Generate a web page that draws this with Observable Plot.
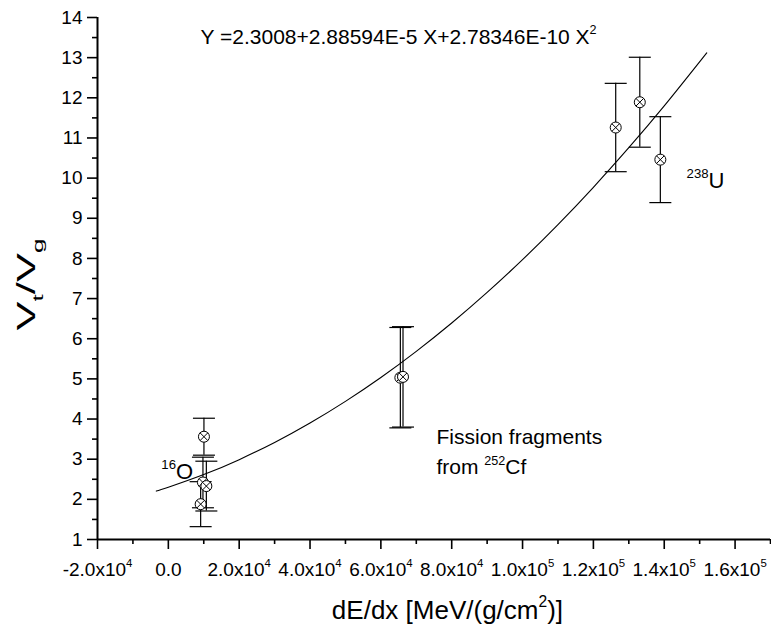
<!DOCTYPE html>
<html><head><meta charset="utf-8">
<script src="https://cdn.jsdelivr.net/npm/d3@7"></script>
<script src="https://cdn.jsdelivr.net/npm/@observablehq/plot@0.6"></script>
<style>body{margin:0;background:#fff}</style>
</head><body><div id="chart"></div>
<script>
// measured points (dE/dx, Vt/Vg, error)
const pointX = [10050, 9770, 10730, 9120, 65500, 66250, 126300, 133100, 138900];
const pointY = [3.56, 2.42, 2.33, 1.88, 5.03, 5.05, 11.26, 11.89, 10.46];
const pointErr = [0.46, 0.63, 0.62, 0.56, 1.25, 1.25, 1.10, 1.12, 1.07];
// fitted curve
const fitX = [-3400, 0, 10000, 20000, 30000, 40000, 50000, 60000, 70000, 80000, 90000, 100000, 110000, 120000, 130000, 140000, 152000];
const fitY = [2.206, 2.301, 2.617, 2.989, 3.417, 3.901, 4.440, 5.034, 5.685, 6.391, 7.153, 7.970, 8.843, 9.772, 10.757, 11.797, 13.118];
// axis ticks
const xMajorTicks = [-20000, 0, 20000, 40000, 60000, 80000, 100000, 120000, 140000, 160000];
const xTickLabels = ["-2.0x10^{4}", "0.0", "2.0x10^{4}", "4.0x10^{4}", "6.0x10^{4}", "8.0x10^{4}", "1.0x10^{5}", "1.2x10^{5}", "1.4x10^{5}", "1.6x10^{5}"];
const xMinorTicks = [-10000, 10000, 30000, 50000, 70000, 90000, 110000, 130000, 150000, 170000];
const yMajorTicks = [1, 2, 3, 4, 5, 6, 7, 8, 9, 10, 11, 12, 13, 14];
const yMinorTicks = [1.5, 2.5, 3.5, 4.5, 5.5, 6.5, 7.5, 8.5, 9.5, 10.5, 11.5, 12.5, 13.5];
const equationText = "Y =2.3008+2.88594E-5 X+2.78346E-10 X^{2}";
const xTitle = "dE/dx [MeV/(g/cm^{2})]";
const yTitle = "V_{t}/V_{g}";

const idx = pointX.map((_, i) => i);
const fitIdx = fitX.map((_, i) => i);

const circleTimes = {
  draw(ctx, size) {
    const r = Math.sqrt(size / Math.PI);
    ctx.moveTo(r, 0);
    ctx.arc(0, 0, r, 0, 2 * Math.PI);
    const a = r / Math.SQRT2;
    ctx.moveTo(-a, -a); ctx.lineTo(a, a);
    ctx.moveTo(-a, a); ctx.lineTo(a, -a);
  }
};
const hCap = {
  draw(ctx, size) {
    const r = Math.sqrt(size / Math.PI);
    ctx.moveTo(-r, 0); ctx.lineTo(r, 0);
  }
};

const font = "Liberation Sans, Arial, sans-serif";

const plot = Plot.plot({
  width: 771, height: 636,
  marginLeft: 97, marginRight: 1, marginTop: 17, marginBottom: 97,
  x: {domain: [-20000, 170000], label: null},
  y: {domain: [1, 14], label: null},
  style: {fontFamily: font, background: "white", color: "black", overflow: "visible"},
  marks: [
    // axis lines
    Plot.ruleX([-20000], {y1: 1, y2: 14, stroke: "black", strokeWidth: 2}),
    Plot.ruleY([1], {x1: -20000, x2: 170000, stroke: "black", strokeWidth: 2}),
    Plot.axisX({ticks: xMajorTicks, tickSize: 10, tickFormat: () => "", strokeWidth: 1.6, label: null}),
    Plot.axisX({ticks: xMinorTicks, tickSize: 5, tickFormat: () => "", strokeWidth: 1.6, label: null}),
    Plot.axisY({ticks: yMajorTicks, tickSize: 10, tickPadding: 5, fontSize: 19, strokeWidth: 1.6, label: null}),
    Plot.axisY({ticks: yMinorTicks, tickSize: 5, tickFormat: () => "", strokeWidth: 1.6, label: null}),
    // x tick labels
    Plot.text(xMajorTicks.map((_, i) => i), {
      x: i => xMajorTicks[i], y: 1, text: i => xTickLabels[i],
      dy: 30, fontSize: 19, lineAnchor: "middle", textAnchor: "middle", fill: "black"
    }),
    // fit curve
    Plot.line(fitIdx, {x: i => fitX[i], y: i => fitY[i], curve: "natural", stroke: "black", strokeWidth: 1.1}),
    // error bars
    Plot.ruleX(idx, {x: i => pointX[i], y1: i => pointY[i] - pointErr[i], y2: i => pointY[i] + pointErr[i], stroke: "black", strokeWidth: 1.2}),
    Plot.dot(idx, {x: i => pointX[i], y: i => pointY[i] + pointErr[i], symbol: hCap, r: 11, stroke: "black", strokeWidth: 1.2}),
    Plot.dot(idx, {x: i => pointX[i], y: i => pointY[i] - pointErr[i], symbol: hCap, r: 11, stroke: "black", strokeWidth: 1.2}),
    // markers
    Plot.dot(idx, {x: i => pointX[i], y: i => pointY[i], symbol: circleTimes, r: 5.5, fill: "white", stroke: "black", strokeWidth: 1}),
    // annotations
    Plot.text([equationText], {x: 9100, y: 13.52, text: d => d, textAnchor: "start", lineAnchor: "middle", fontSize: 21, fill: "black"}),
    Plot.text(["^{16}O"], {x: -1980, y: 2.69, text: d => d, textAnchor: "start", lineAnchor: "middle", fontSize: 22, fill: "black"}),
    Plot.text(["^{238}U"], {x: 146300, y: 9.94, text: d => d, textAnchor: "start", lineAnchor: "middle", fontSize: 22, fill: "black"}),
    Plot.text(["Fission fragments"], {x: 75700, y: 3.55, text: d => d, textAnchor: "start", lineAnchor: "middle", fontSize: 21, fill: "black"}),
    Plot.text(["from ^{252}Cf"], {x: 75700, y: 2.80, text: d => d, textAnchor: "start", lineAnchor: "middle", fontSize: 21, fill: "black"}),
    // axis titles
    Plot.text([xTitle], {x: 78800, y: 1, text: d => d, dy: 71, textAnchor: "middle", lineAnchor: "middle", fontSize: 26, fill: "black"}),
    Plot.text([yTitle], {frameAnchor: "left", y: 7.35, text: d => d, dx: -71, rotate: -90, textAnchor: "middle", lineAnchor: "middle", fontSize: 25, fill: "black"})
  ]
});

document.getElementById("chart").appendChild(plot);

// rich text: ^{...} superscript, _{...} subscript
function richify(svg) {
  const NS = "http://www.w3.org/2000/svg";
  svg.querySelectorAll("text").forEach(t => {
    const s = t.textContent;
    if (!/[\^_]\{/.test(s)) return;
    const F = parseFloat(getComputedStyle(t).fontSize) || 16;
    while (t.firstChild) t.removeChild(t.firstChild);
    const re = /([\^_])\{([^}]*)\}/g;
    let last = 0, m, shift = 0;
    const add = (txt, mode) => {
      if (!txt) return;
      const ts = document.createElementNS(NS, "tspan");
      const target = mode === "^" ? -0.45 * F : mode === "_" ? 0.32 * F : 0;
      const d = target - shift;
      if (d) ts.setAttribute("dy", d);
      shift = target;
      if (mode) ts.setAttribute("font-size", (0.6 * F).toFixed(1));
      ts.textContent = txt;
      t.appendChild(ts);
    };
    while ((m = re.exec(s))) { add(s.slice(last, m.index), null); add(m[2], m[1]); last = re.lastIndex; }
    add(s.slice(last), null);
    if (s === yTitle) {
      t.setAttribute("textLength", 92);
      t.setAttribute("lengthAdjust", "spacingAndGlyphs");
    }
  });
}
richify(plot);
</script>
</body></html>
